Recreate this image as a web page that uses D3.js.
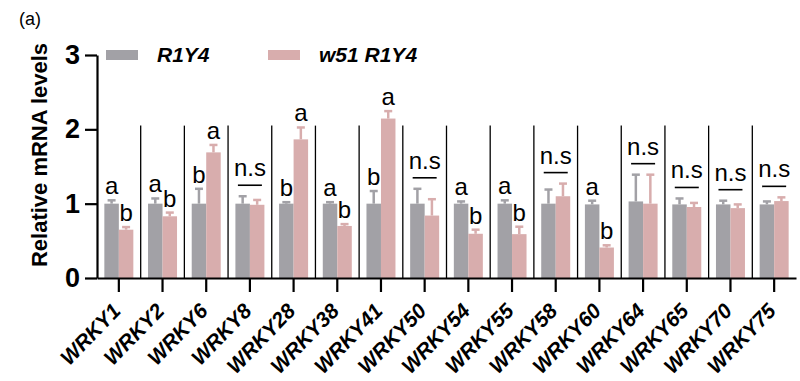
<!DOCTYPE html>
<html>
<head>
<meta charset="utf-8">
<script src="https://cdn.jsdelivr.net/npm/d3@7"></script>
<style>
  body { margin: 0; background: #fff; }
  text { font-family: Arial, "Liberation Sans", sans-serif; }
</style>
</head>
<body>
<div id="chart"></div>
<script>
// data
var genes = ["WRKY1","WRKY2","WRKY6","WRKY8","WRKY28","WRKY38","WRKY41","WRKY50",
             "WRKY54","WRKY55","WRKY58","WRKY60","WRKY64","WRKY65","WRKY70","WRKY75"];
var series = ["R1Y4", "w51 R1Y4"];
var r1y4 =     [1.0, 1.0, 1.0, 1.0, 1.0, 1.0, 1.0, 1.0, 1.0, 1.0, 1.0, 0.99, 1.03, 0.99, 0.99, 0.99];
var r1y4Err =  [0.045, 0.07, 0.2, 0.1, 0.02, 0.02, 0.17, 0.2, 0.03, 0.045, 0.19, 0.05, 0.36, 0.08, 0.05, 0.04];
var w51 =      [0.65, 0.83, 1.69, 0.985, 1.865, 0.70, 2.145, 0.84, 0.595, 0.59, 1.1, 0.41, 1.0, 0.955, 0.94, 1.035];
var w51Err =   [0.035, 0.05, 0.1, 0.065, 0.16, 0.025, 0.1, 0.22, 0.055, 0.1, 0.17, 0.03, 0.39, 0.055, 0.05, 0.05];
var r1y4Sig =  ["a","a","b","","b","a","b","","a","a","","a","","","",""];
var w51Sig =   ["b","b","a","","a","b","a","","b","b","","b","","","",""];
var notSig =   [false,false,false,true,false,false,false,true,false,false,true,false,true,true,true,true];
var yTicks = [0, 1, 2, 3];

var colors = ["#a2a1a6", "#d8adad"];

//dimensions
var W = 800, H = 381;
var x0 = 97, x1 = 796, yBase = 278, yTop = 55;

var svg = d3.select("#chart").append("svg")
  .attr("width", W).attr("height", H);

//scales
var x = d3.scaleBand().domain(genes).range([x0, x1]).padding(0);
var xs = d3.scaleBand().domain(series).range([0, 29]);
var y = d3.scaleLinear().domain([0, 3]).range([yBase, yTop]);
var color = d3.scaleOrdinal().domain(series).range(colors);

//rows for drawing
var rows = genes.map(function(g, i) {
  return {gene: g, i: i, vals: [
    {s: series[0], v: r1y4[i], e: r1y4Err[i], sig: r1y4Sig[i]},
    {s: series[1], v: w51[i], e: w51Err[i], sig: w51Sig[i]}
  ]};
});
function bx(d, g) { return x(g) + x.bandwidth() / 2 - 14.5 + xs(d.s); }

//separators between groups
svg.append("g").selectAll("line")
  .data(genes.slice(1))
  .enter().append("line")
  .attr("x1", function(g) { return x(g); })
  .attr("x2", function(g) { return x(g); })
  .attr("y1", y(2.05)).attr("y2", yBase)
  .attr("stroke", "#000").attr("stroke-width", 1.3);

var grp = svg.append("g").selectAll("g")
  .data(rows).enter().append("g");

//bars
grp.selectAll("rect")
  .data(function(r) { return r.vals.map(function(v) { v.g = r.gene; return v; }); })
  .enter().append("rect")
  .attr("x", function(d) { return bx(d, d.g); })
  .attr("width", xs.bandwidth())
  .attr("y", function(d) { return y(d.v); })
  .attr("height", function(d) { return yBase - y(d.v); })
  .attr("fill", function(d) { return color(d.s); });

//error bars (upper only)
var eb = grp.selectAll("g.err")
  .data(function(r) { return r.vals; })
  .enter().append("g").attr("class", "err")
  .attr("stroke", function(d) { return color(d.s); })
  .attr("stroke-width", 2.5);
eb.append("line")
  .attr("x1", function(d) { return bx(d, d.g) + xs.bandwidth() / 2; })
  .attr("x2", function(d) { return bx(d, d.g) + xs.bandwidth() / 2; })
  .attr("y1", function(d) { return y(d.v); })
  .attr("y2", function(d) { return y(d.v + d.e); });
eb.append("line")
  .attr("x1", function(d) { return bx(d, d.g) + xs.bandwidth() / 2 - 4; })
  .attr("x2", function(d) { return bx(d, d.g) + xs.bandwidth() / 2 + 4; })
  .attr("y1", function(d) { return y(d.v + d.e); })
  .attr("y2", function(d) { return y(d.v + d.e); });

//significance letters
grp.selectAll("text.sig")
  .data(function(r) { return notSig[r.i] ? [] : r.vals; })
  .enter().append("text").attr("class", "sig")
  .attr("x", function(d) { return bx(d, d.g) + xs.bandwidth() / 2; })
  .attr("y", function(d) { return y(d.v + d.e) - 6; })
  .attr("text-anchor", "middle")
  .style("font-size", "24px")
  .text(function(d) { return d.sig; });

//n.s marks
var ns = grp.filter(function(r) { return notSig[r.i]; });
function nsY(r) { return y(d3.max(r.vals, function(v) { return v.v + v.e; })) - 11; }
ns.append("line")
  .attr("x1", function(r) { return x(r.gene) + x.bandwidth() / 2 - 12; })
  .attr("x2", function(r) { return x(r.gene) + x.bandwidth() / 2 + 12; })
  .attr("y1", nsY).attr("y2", nsY)
  .attr("stroke", "#000").attr("stroke-width", 1.6);
ns.append("text")
  .attr("x", function(r) { return x(r.gene) + x.bandwidth() / 2; })
  .attr("y", function(r) { return nsY(r) - 9; })
  .attr("text-anchor", "middle")
  .style("font-size", "24px")
  .text("n.s");

//y axis
var yAxis = svg.append("g")
  .attr("transform", "translate(" + x0 + ",0)")
  .call(d3.axisLeft(y).tickValues(yTicks).tickSize(12).tickSizeOuter(0).tickPadding(5).tickFormat(d3.format("d")));
yAxis.select(".domain").attr("stroke-width", 2.2);
yAxis.selectAll(".tick line").attr("stroke-width", 2.2);
yAxis.selectAll(".tick text")
  .style("font-family", "Arial, 'Liberation Sans', sans-serif")
  .style("font-size", "27px").style("font-weight", "bold").attr("fill", "#000");

//x axis
var xAxis = svg.append("g")
  .attr("transform", "translate(0," + yBase + ")")
  .call(d3.axisBottom(x).tickSize(14).tickSizeOuter(0));
xAxis.select(".domain").attr("stroke-width", 2.2);
xAxis.selectAll(".tick line").attr("stroke-width", 2.2);
xAxis.selectAll(".tick text")
  .attr("text-anchor", "end")
  .attr("transform", "translate(3,34) rotate(-46)")
  .attr("x", 0).attr("y", 0).attr("dy", 0)
  .style("font-family", "Arial, 'Liberation Sans', sans-serif")
  .style("font-size", "21px").style("font-weight", "bold").style("font-style", "italic")
  .attr("fill", "#000");

//y label
svg.append("text")
  .attr("transform", "translate(47,155) rotate(-90)")
  .attr("text-anchor", "middle")
  .style("font-size", "22px").style("font-weight", "bold")
  .text("Relative mRNA levels");

//panel tag
svg.append("text").attr("x", 19).attr("y", 25)
  .style("font-size", "18px").text("(a)");

//legend
var legX = [106, 268];
var leg = svg.append("g").selectAll("g")
  .data(series).enter().append("g")
  .attr("transform", function(s, i) { return "translate(" + legX[i] + ",50)"; });
leg.append("rect").attr("width", 32).attr("height", 10)
  .attr("fill", function(s) { return color(s); });
leg.append("text").attr("x", 51).attr("y", 12)
  .style("font-size", "21px").style("font-weight", "bold").style("font-style", "italic")
  .text(function(s) { return s; });
</script>
</body>
</html>
